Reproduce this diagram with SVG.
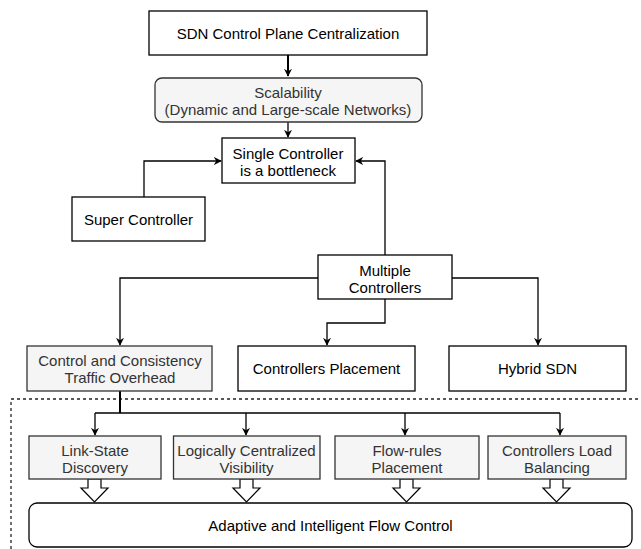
<svg xmlns="http://www.w3.org/2000/svg" width="641" height="549" viewBox="0 0 641 549">
  <defs>
    <marker id="arrow" viewBox="0 0 10 10" refX="9" refY="5" markerWidth="8" markerHeight="8" markerUnits="userSpaceOnUse" orient="auto">
      <path d="M0,0 L10,5 L0,10 L3,5 Z" fill="#000"/>
    </marker>
  </defs>
  <style>
    .box { fill: #ffffff; stroke: #000; stroke-width: 1.3; }
    .grey { fill: #f5f5f5; stroke: #333; stroke-width: 1.3; }
    text { font-family: "Liberation Sans", Arial, Helvetica, sans-serif; font-size: 15px; fill: #000; text-anchor: middle; dominant-baseline: central; }
    text.g { fill: #333333; }
    .link { fill: none; stroke: #000; stroke-width: 1.3; }
    .thick { fill: none; stroke: #000; stroke-width: 2; }
    .block { fill: #fff; stroke: #000; stroke-width: 1.2; }
    .dash { fill: none; stroke: #222; stroke-width: 1.3; stroke-dasharray: 3 3; }
  </style>

  <rect width="641" height="549" fill="#fff"/>

  <!-- grouping border of the flow-control layer -->
  <path class="dash" d="M11,549 V399 H641"/>

  <g id="connectors">
    <path class="thick" d="M288,55 V76" marker-end="url(#arrow)"/>
    <path class="link" d="M288,122 V137" marker-end="url(#arrow)"/>
    <path class="link" d="M144,197 V161 H221" marker-end="url(#arrow)"/>
    <path class="link" d="M385,255 V161 H356" marker-end="url(#arrow)"/>
    <path class="link" d="M318,278 H120 V345" marker-end="url(#arrow)"/>
    <path class="link" d="M385,299 V323 H327 V345" marker-end="url(#arrow)"/>
    <path class="link" d="M452,278 H538 V345" marker-end="url(#arrow)"/>
    <path class="thick" d="M120,391 V413"/>
    <path class="link" d="M95,413 H560"/>
    <path class="link" d="M95,413 V435" marker-end="url(#arrow)"/>
    <path class="link" d="M246,413 V435" marker-end="url(#arrow)"/>
    <path class="link" d="M405,413 V435" marker-end="url(#arrow)"/>
    <path class="link" d="M560,413 V435" marker-end="url(#arrow)"/>
    <!-- hollow block arrows into the flow-control box -->
    <path class="block" d="M88,479 H101 V488 H108 L94.5,502 L81,488 H88 Z"/>
    <path class="block" d="M240,479 H253 V488 H260 L246.5,502 L233,488 H240 Z"/>
    <path class="block" d="M400,479 H413 V488 H420 L406.5,502 L393,488 H400 Z"/>
    <path class="block" d="M550,479 H563 V488 H570 L556.5,502 L543,488 H550 Z"/>
  </g>

  <g id="sdn-centralization">
    <rect class="box" x="149" y="11" width="278" height="44"/>
    <text x="288" y="33">SDN Control Plane Centralization</text>
  </g>

  <g id="scalability">
    <rect class="grey" x="155" y="78" width="267" height="44" rx="7"/>
    <text class="g" x="288" y="92">Scalability</text>
    <text class="g" x="288" y="109">(Dynamic and Large-scale Networks)</text>
  </g>

  <g id="single-controller">
    <rect class="box" x="222" y="138" width="133" height="45"/>
    <text x="288" y="153">Single Controller</text>
    <text x="288" y="170">is a bottleneck</text>
  </g>

  <g id="super-controller">
    <rect class="box" x="72" y="197" width="133" height="44"/>
    <text x="138.5" y="219">Super Controller</text>
  </g>

  <g id="multiple-controllers">
    <rect class="box" x="318" y="255" width="134" height="44"/>
    <text x="385" y="270">Multiple</text>
    <text x="385" y="287">Controllers</text>
  </g>

  <g id="consistency-overhead">
    <rect class="grey" x="27" y="346" width="185" height="45"/>
    <text class="g" x="120" y="360">Control and Consistency</text>
    <text class="g" x="120" y="377">Traffic Overhead</text>
  </g>

  <g id="controllers-placement">
    <rect class="box" x="238" y="346" width="177" height="45"/>
    <text x="326.5" y="368.5">Controllers Placement</text>
  </g>

  <g id="hybrid-sdn">
    <rect class="box" x="449" y="346" width="177" height="45"/>
    <text x="537.5" y="368.5">Hybrid SDN</text>
  </g>

  <g id="link-state">
    <rect class="grey" x="29" y="436" width="132" height="43"/>
    <text class="g" x="95" y="450">Link-State</text>
    <text class="g" x="95" y="467">Discovery</text>
  </g>

  <g id="logical-visibility">
    <rect class="grey" x="173.5" y="436" width="146.5" height="43"/>
    <text class="g" x="246.5" y="450">Logically Centralized</text>
    <text class="g" x="246.5" y="467">Visibility</text>
  </g>

  <g id="flow-rules">
    <rect class="grey" x="335" y="436" width="144" height="43"/>
    <text class="g" x="407" y="450">Flow-rules</text>
    <text class="g" x="407" y="467">Placement</text>
  </g>

  <g id="load-balancing">
    <rect class="grey" x="488" y="436" width="138" height="43"/>
    <text class="g" x="557" y="450">Controllers Load</text>
    <text class="g" x="557" y="467">Balancing</text>
  </g>

  <g id="adaptive-flow-control">
    <rect class="box" x="29" y="503" width="603" height="44" rx="8"/>
    <text x="330.5" y="525">Adaptive and Intelligent Flow Control</text>
  </g>
</svg>
